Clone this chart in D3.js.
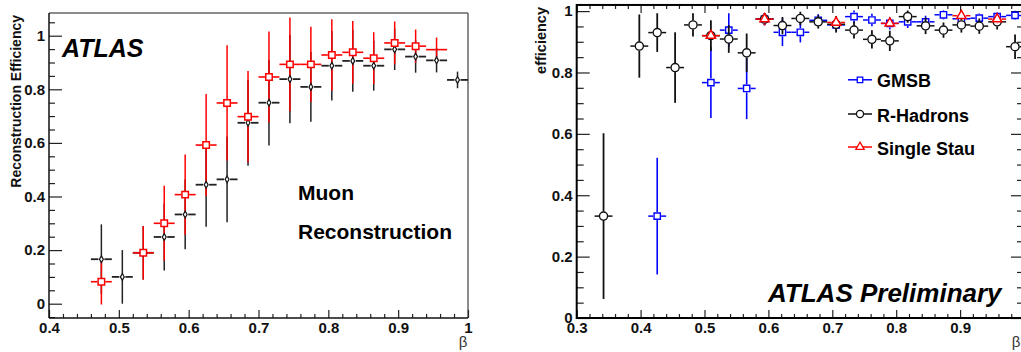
<!DOCTYPE html>
<html><head><meta charset="utf-8">
<script src="https://cdn.jsdelivr.net/npm/d3@7"></script>
<style>
html,body{margin:0;padding:0;background:#fff;}
svg{display:block;font-family:"Liberation Sans",Arial,Helvetica,sans-serif;}
</style></head>
<body>
<svg id="chart" width="1021" height="352"></svg>
<script>
// ---------- DATA: left panel (Muon reconstruction) ----------
const leftXTicks = [0.4, 0.5, 0.6, 0.7, 0.8, 0.9, 1.0];
const leftXLabels = ["0.4", "0.5", "0.6", "0.7", "0.8", "0.9", "1"];
const leftYTicks = [0, 0.2, 0.4, 0.6, 0.8, 1.0];
const leftYLabels = ["0", "0.2", "0.4", "0.6", "0.8", "1"];
const leftBinHalf = 0.015;

const leftBlackX   = [0.475, 0.505, 0.535, 0.565, 0.595, 0.625, 0.655, 0.685, 0.715, 0.745, 0.775, 0.805, 0.835, 0.865, 0.895, 0.925, 0.955, 0.985];
const leftBlackY   = [0.166, 0.100, 0.190, 0.249, 0.333, 0.444, 0.464, 0.675, 0.750, 0.838, 0.809, 0.888, 0.906, 0.888, 0.949, 0.922, 0.908, 0.835];
const leftBlackErr = [0.130, 0.100, 0.100, 0.125, 0.130, 0.157, 0.160, 0.160, 0.160, 0.165, 0.130, 0.130, 0.115, 0.093, 0.077, 0.060, 0.045, 0.031];

const leftRedX   = [0.475, 0.535, 0.565, 0.595, 0.625, 0.655, 0.685, 0.715, 0.745, 0.775, 0.805, 0.835, 0.865, 0.895, 0.925, 0.955];
const leftRedY   = [0.082, 0.190, 0.300, 0.407, 0.592, 0.749, 0.698, 0.846, 0.893, 0.893, 0.928, 0.938, 0.916, 0.973, 0.961, 0.948];
const leftRedErr = [0.085, 0.100, 0.140, 0.150, 0.190, 0.215, 0.170, 0.170, 0.175, 0.140, 0.133, 0.117, 0.097, 0.080, 0.062, 0.045];
const leftRedMarker = [1, 1, 1, 1, 1, 1, 1, 1, 1, 1, 1, 1, 1, 1, 1, 0];

// ---------- DATA: right panel (efficiency) ----------
const rightXTicks = [0.3, 0.4, 0.5, 0.6, 0.7, 0.8, 0.9, 1.0];
const rightXLabels = ["0.3", "0.4", "0.5", "0.6", "0.7", "0.8", "0.9", "1"];
const rightYTicks = [0, 0.2, 0.4, 0.6, 0.8, 1.0];
const rightYLabels = ["0", "0.2", "0.4", "0.6", "0.8", "1"];
const rightBinHalf = 0.014;

const gmsbX   = [0.426, 0.510, 0.538, 0.566, 0.594, 0.622, 0.650, 0.678, 0.706, 0.734, 0.762, 0.790, 0.818, 0.846, 0.874, 0.902, 0.930, 0.958, 0.986];
const gmsbY   = [0.332, 0.767, 0.938, 0.748, 0.974, 0.931, 0.931, 0.970, 0.955, 0.982, 0.971, 0.960, 0.965, 0.965, 0.988, 0.975, 0.977, 0.982, 0.986];
const gmsbErr = [0.190, 0.115, 0.055, 0.100, 0.020, 0.045, 0.033, 0.020, 0.020, 0.020, 0.020, 0.020, 0.020, 0.020, 0.015, 0.015, 0.015, 0.015, 0.015];

const rhX   = [0.342, 0.398, 0.426, 0.454, 0.482, 0.510, 0.538, 0.566, 0.594, 0.622, 0.650, 0.678, 0.706, 0.734, 0.762, 0.790, 0.818, 0.846, 0.874, 0.902, 0.930, 0.958, 0.986];
const rhY   = [0.332, 0.886, 0.930, 0.816, 0.955, 0.920, 0.909, 0.864, 0.974, 0.953, 0.976, 0.965, 0.957, 0.938, 0.908, 0.903, 0.982, 0.952, 0.938, 0.955, 0.951, 0.965, 0.884];
const rhErr = [0.270, 0.103, 0.063, 0.115, 0.038, 0.050, 0.045, 0.063, 0.020, 0.028, 0.022, 0.022, 0.027, 0.027, 0.030, 0.033, 0.020, 0.027, 0.025, 0.025, 0.025, 0.025, 0.040];

const stauX   = [0.510, 0.594, 0.706, 0.790, 0.902, 0.958];
const stauY   = [0.920, 0.974, 0.963, 0.960, 0.985, 0.974];
const stauErr = [0.010, 0.020, 0.015, 0.015, 0.015, 0.015];

const legendNames = ["GMSB", "R-Hadrons", "Single Stau"];

// ---------- DRAWING ----------
const svg = d3.select("#chart");
const FONT = '"Liberation Sans",Arial,Helvetica,sans-serif';

function zip(xs, ys, es, ms) {
  return xs.map((x, i) => ({x: x, y: ys[i], e: es[i], m: ms ? ms[i] : 1}));
}

function styleAxis(g, size) {
  g.select(".domain").remove();
  g.selectAll(".tick line").attr("stroke", "#222").attr("stroke-width", 1.2);
  g.selectAll(".tick text").attr("font-family", FONT).attr("font-weight", "bold")
    .attr("font-size", size).attr("fill", "#111");
}

function drawErrors(g, data, xs, ys, half, gap, color, wV, wH) {
  const eg = g.append("g");
  data.forEach(d => {
    const cx = xs(d.x), cy = ys(d.y);
    const xl = xs(d.x - half), xr = xs(d.x + half);
    const g2 = d.m ? gap : 0;
    eg.append("line").attr("x1", xl).attr("x2", cx - g2).attr("y1", cy).attr("y2", cy)
      .attr("stroke", color).attr("stroke-width", wH);
    eg.append("line").attr("x1", cx + g2).attr("x2", xr).attr("y1", cy).attr("y2", cy)
      .attr("stroke", color).attr("stroke-width", wH);
    const yt = ys(d.y + d.e), yb = ys(d.y - d.e);
    if (cy - yt > g2) eg.append("line").attr("x1", cx).attr("x2", cx).attr("y1", yt).attr("y2", cy - g2)
      .attr("stroke", color).attr("stroke-width", wV);
    if (yb - cy > g2) eg.append("line").attr("x1", cx).attr("x2", cx).attr("y1", cy + g2).attr("y2", yb)
      .attr("stroke", color).attr("stroke-width", wV);
  });
}

function drawMarkers(g, data, xs, ys, type, size, color, sw) {
  g.append("g").selectAll("path").data(data.filter(d => d.m)).join("path")
    .attr("d", d3.symbol().type(type).size(size))
    .attr("transform", d => `translate(${xs(d.x)},${ys(d.y)})`)
    .attr("fill", "#fff").attr("stroke", color).attr("stroke-width", sw);
}

// ===== LEFT PANEL =====
const xL = d3.scaleLinear().domain([0.4, 1.0]).range([49, 468]);
const yL = d3.scaleLinear().domain([0, 1]).range([303.7, 35.7]);
const gL = svg.append("g");
const Ltop = yL(1.085), Lbot = yL(-0.053);

// frame
gL.append("line").attr("x1", xL(0.4)).attr("x2", xL(1.0)).attr("y1", Ltop).attr("y2", Ltop).attr("stroke", "#666").attr("stroke-width", 1.5);
gL.append("line").attr("x1", xL(1.0)).attr("x2", xL(1.0)).attr("y1", Ltop).attr("y2", Lbot).attr("stroke", "#666").attr("stroke-width", 1.5);

// minor ticks
const leftYMinor = d3.range(-0.05, 1.07, 0.05).filter(v => Math.abs(Math.round(v * 5) - v * 5) > 0.01);
const leftXMinor = d3.range(0.42, 1.0, 0.02).filter(v => Math.abs(Math.round(v * 10) - v * 10) > 0.01);
styleAxis(gL.append("g").attr("transform", `translate(${xL(0.4)},0)`)
  .call(d3.axisLeft(yL).tickValues(leftYMinor).tickSize(-6).tickFormat("")), 15);
styleAxis(gL.append("g").attr("transform", `translate(0,${Lbot})`)
  .call(d3.axisBottom(xL).tickValues(leftXMinor).tickSize(-4).tickFormat("")), 15);
styleAxis(gL.append("g").attr("transform", `translate(${xL(0.4)},0)`)
  .call(d3.axisLeft(yL).tickValues(leftYTicks).tickSize(-13).tickPadding(4)
    .tickFormat((d, i) => leftYLabels[i])), 15);
styleAxis(gL.append("g").attr("transform", `translate(0,${Lbot})`)
  .call(d3.axisBottom(xL).tickValues(leftXTicks).tickSize(-8).tickPadding(4.5)
    .tickFormat((d, i) => leftXLabels[i])), 15);
gL.append("line").attr("x1", xL(0.4)).attr("x2", xL(0.4)).attr("y1", Ltop).attr("y2", Lbot).attr("stroke", "#111").attr("stroke-width", 1.5);
gL.append("line").attr("x1", xL(0.4)).attr("x2", xL(1.0)).attr("y1", Lbot).attr("y2", Lbot).attr("stroke", "#111").attr("stroke-width", 1.5);

const blackL = zip(leftBlackX, leftBlackY, leftBlackErr);
const redL = zip(leftRedX, leftRedY, leftRedErr, leftRedMarker);
drawErrors(gL, blackL, xL, yL, leftBinHalf, 3, "#222", 1.5, 1.8);
drawErrors(gL, redL, xL, yL, leftBinHalf, 4, "#f00", 1.5, 1.6);
drawMarkers(gL, blackL, xL, yL, d3.symbolDiamond, 13, "#111", 1.2);
drawMarkers(gL, redL, xL, yL, d3.symbolSquare, 42, "#f00", 1.5);

gL.append("text").attr("transform", "translate(21,15) rotate(-90)").attr("text-anchor", "end")
  .attr("font-family", FONT).attr("font-weight", "bold").attr("font-size", 14).attr("fill", "#111")
  .text("Reconstruction Efficiency");
gL.append("text").attr("x", 62).attr("y", 57).attr("font-family", FONT).attr("font-weight", "bold")
  .attr("font-style", "italic").attr("font-size", 25).attr("fill", "#000").text("ATLAS");
gL.append("text").attr("x", 298).attr("y", 200).attr("font-family", FONT).attr("font-weight", "bold")
  .attr("font-size", 21).attr("fill", "#000").text("Muon");
gL.append("text").attr("x", 298).attr("y", 239).attr("font-family", FONT).attr("font-weight", "bold")
  .attr("font-size", 21).attr("fill", "#000").text("Reconstruction");
gL.append("text").attr("x", 463).attr("y", 347).attr("text-anchor", "middle").attr("font-family", FONT)
  .attr("font-size", 15).attr("fill", "#333").text("β");

// ===== RIGHT PANEL =====
const xR = d3.scaleLinear().domain([0.3, 1.0]).range([576.7, 1024]);
const yR = d3.scaleLinear().domain([0, 1]).range([318, 11.1]);
const gR = svg.append("g");
const Rtop = yR(1.02), Rbot = yR(0);

const rightYMinor = d3.range(0.05, 1.01, 0.05).filter(v => Math.abs(Math.round(v * 5) - v * 5) > 0.01);
const rightXMinor = d3.range(0.32, 1.0, 0.02).filter(v => Math.abs(Math.round(v * 10) - v * 10) > 0.01);
styleAxis(gR.append("g").attr("transform", `translate(${xR(0.3)},0)`)
  .call(d3.axisLeft(yR).tickValues(rightYMinor).tickSize(-7).tickFormat("")), 15);
styleAxis(gR.append("g").attr("transform", `translate(${xR(1.0)},0)`)
  .call(d3.axisRight(yR).tickValues(rightYMinor).tickSize(-7).tickFormat("")), 15);
styleAxis(gR.append("g").attr("transform", `translate(${xR(1.0)},0)`)
  .call(d3.axisRight(yR).tickValues(rightYTicks).tickSize(-13).tickFormat("")), 15);
styleAxis(gR.append("g").attr("transform", `translate(0,${Rbot})`)
  .call(d3.axisBottom(xR).tickValues(rightXMinor).tickSize(-4).tickFormat("")), 15);
styleAxis(gR.append("g").attr("transform", `translate(0,${Rtop})`)
  .call(d3.axisTop(xR).tickValues(rightXMinor).tickSize(-4).tickFormat("")), 15);
styleAxis(gR.append("g").attr("transform", `translate(0,${Rtop})`)
  .call(d3.axisTop(xR).tickValues(rightXTicks).tickSize(-8).tickFormat("")), 15);
styleAxis(gR.append("g").attr("transform", `translate(${xR(0.3)},0)`)
  .call(d3.axisLeft(yR).tickValues(rightYTicks).tickSize(-13).tickPadding(4)
    .tickFormat((d, i) => rightYLabels[i])), 15);
styleAxis(gR.append("g").attr("transform", `translate(0,${Rbot})`)
  .call(d3.axisBottom(xR).tickValues(rightXTicks).tickSize(-8).tickPadding(4)
    .tickFormat((d, i) => rightXLabels[i])), 15);
gR.append("rect").attr("x", xR(0.3)).attr("y", Rtop).attr("width", xR(1.0) - xR(0.3)).attr("height", Rbot - Rtop)
  .attr("fill", "none").attr("stroke", "#000").attr("stroke-width", 2);

const gmsb = zip(gmsbX, gmsbY, gmsbErr);
const rh = zip(rhX, rhY, rhErr);
const stau = zip(stauX, stauY, stauErr);
drawErrors(gR, gmsb, xR, yR, rightBinHalf, 4, "#00f", 1.6, 1.5);
drawMarkers(gR, gmsb, xR, yR, d3.symbolSquare, 40, "#00f", 1.4);
drawErrors(gR, rh, xR, yR, rightBinHalf, 4.5, "#111", 1.8, 1.5);
drawMarkers(gR, rh, xR, yR, d3.symbolCircle, 52, "#111", 1.4);
drawErrors(gR, stau, xR, yR, rightBinHalf, 4.5, "#f00", 1.6, 1.5);
drawMarkers(gR, stau, xR, yR, d3.symbolTriangle, 38, "#f00", 1.5);

// legend
const legColors = ["#00f", "#111", "#f00"];
const legTypes = [d3.symbolSquare, d3.symbolCircle, d3.symbolTriangle];
const legSizes = [30, 40, 30];
const legBase = [87.3, 121.5, 154.5];
legendNames.forEach((name, i) => {
  const ly = legBase[i] - 7.5;
  gR.append("line").attr("x1", 848).attr("x2", 872).attr("y1", ly).attr("y2", ly)
    .attr("stroke", legColors[i]).attr("stroke-width", 1.5);
  gR.append("path").attr("d", d3.symbol().type(legTypes[i]).size(legSizes[i])())
    .attr("transform", `translate(860,${ly})`).attr("fill", "#fff")
    .attr("stroke", legColors[i]).attr("stroke-width", 1.3);
  gR.append("text").attr("x", 877).attr("y", legBase[i]).attr("font-family", FONT)
    .attr("font-weight", "bold").attr("font-size", 18).attr("fill", "#000").text(name);
});

gR.append("text").attr("transform", "translate(546,7) rotate(-90)").attr("text-anchor", "end")
  .attr("font-family", FONT).attr("font-weight", "bold").attr("font-size", 14.5).attr("fill", "#111")
  .text("efficiency");
gR.append("text").attr("x", 768).attr("y", 302).attr("font-family", FONT).attr("font-weight", "bold")
  .attr("font-style", "italic").attr("font-size", 26).attr("fill", "#000").text("ATLAS Preliminary");
gR.append("text").attr("x", 1016).attr("y", 347).attr("text-anchor", "middle").attr("font-family", FONT)
  .attr("font-size", 15).attr("fill", "#333").text("β");
</script>
</body></html>
